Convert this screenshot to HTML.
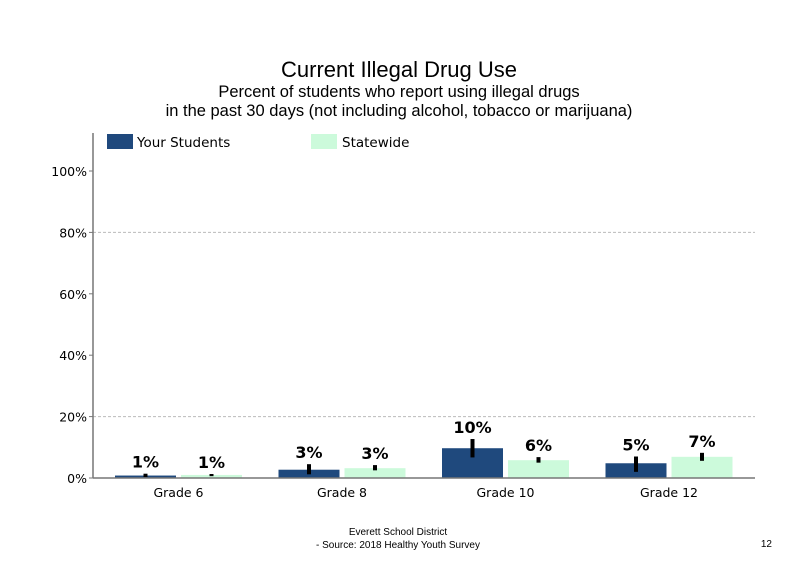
<!DOCTYPE html>
<html><head><meta charset="utf-8"><style>
body{margin:0;background:#fff;font-family:"Liberation Sans",sans-serif}
svg text{font-family:"DejaVu Sans","Liberation Sans",sans-serif}
</style></head><body>
<svg width="800" height="568" xmlns="http://www.w3.org/2000/svg" id="chart">
<text x="399" y="77" text-anchor="middle" font-size="22" style="font-family:'Liberation Sans',sans-serif">Current Illegal Drug Use</text>
<text x="399" y="97" text-anchor="middle" font-size="16.5" style="font-family:'Liberation Sans',sans-serif">Percent of students who report using illegal drugs</text>
<text x="399" y="116" text-anchor="middle" font-size="16.5" style="font-family:'Liberation Sans',sans-serif">in the past 30 days (not including alcohol, tobacco or marijuana)</text>
<g>
<rect x="107" y="134" width="26" height="15" fill="#1f497d"/>
<text x="137" y="147" font-size="13.5">Your Students</text>
<rect x="311" y="134" width="26" height="15" fill="#ccfadb"/>
<text x="342" y="147" font-size="13.5">Statewide</text>
</g>
<g id="grid"></g><g id="bars"></g>
<line x1="93" y1="133" x2="93" y2="478" stroke="#777" stroke-width="1.5"/>
<line x1="93" y1="478" x2="755" y2="478" stroke="#777" stroke-width="1.5"/>
<text x="398" y="535" text-anchor="middle" font-size="10" style="font-family:'Liberation Sans',sans-serif">Everett School District</text>
<text x="398" y="548" text-anchor="middle" font-size="10" style="font-family:'Liberation Sans',sans-serif">- Source: 2018 Healthy  Youth Survey</text>
<text x="772" y="547" text-anchor="end" font-size="10" style="font-family:'Liberation Sans',sans-serif">12</text>
</svg>
<script>
const categories=["Grade 6","Grade 8","Grade 10","Grade 12"];
const yourValues=[0.8,2.7,9.7,4.8];
const stateValues=[1.0,3.2,5.8,6.9];
const yourLow=[0.3,1.2,6.7,2.0];
const yourHigh=[1.4,4.5,12.7,7.0];
const stateLow=[0.6,2.5,5.0,5.6];
const stateHigh=[1.3,4.2,6.8,8.2];
const yourLabels=["1%","3%","10%","5%"];
const stateLabels=["1%","3%","6%","7%"];
const yTicks=[0,20,40,60,80,100];
const yTickLabels=["0%","20%","40%","60%","80%","100%"];
const NS="http://www.w3.org/2000/svg";
const x0=93,x1=755,yb=478,ppu=3.07;
const y=v=>yb-v*ppu;
const gw=163.5,firstCenter=178.5;
const bw=61,gap=5;
const grid=document.getElementById('grid'),bars=document.getElementById('bars');
function mk(t,a,p){const e=document.createElementNS(NS,t);for(const k in a)e.setAttribute(k,a[k]);p.appendChild(e);return e;}
yTicks.forEach((t,i)=>{
  if(t===20||t===80){const l=mk('line',{x1:x0,x2:x1,y1:y(t),y2:y(t),stroke:'#bbb','stroke-dasharray':'3,2'},grid);
  
  }
  const tk=mk('line',{x1:x0-4,x2:x0,y1:y(t),y2:y(t),stroke:'#777'},grid);
  
  
  const tx=mk('text',{x:x0-6,y:y(t)+5,'text-anchor':'end','font-size':'12.5'},grid);
  tx.textContent=yTickLabels[i];
  
  
});
categories.forEach((c,i)=>{
  const cx=firstCenter+gw*i;
  const series=[[yourValues,yourLow,yourHigh,yourLabels,'#1f497d',cx-gap/2-bw,'your-students'],[stateValues,stateLow,stateHigh,stateLabels,'#ccfadb',cx+gap/2,'statewide']];
  series.forEach(s=>{
    const v=s[0][i],bx=s[5];
    const r=mk('rect',{x:bx,y:y(v),width:bw,height:v*ppu,fill:s[4]},bars);
    
    
    const e=mk('rect',{x:bx+bw/2-2,y:y(s[2][i]),width:4,height:(s[2][i]-s[1][i])*ppu,fill:'#000'},bars);
    
    
    const t=mk('text',{x:bx+bw/2,y:y(Math.max(s[2][i],v))-6,'text-anchor':'middle','font-size':'16','font-weight':'bold'},bars);
    t.textContent=s[3][i];
    
    
  });
  const cl=mk('text',{x:cx,y:497,'text-anchor':'middle','font-size':'12.5'},bars);
  cl.textContent=c;
  
  
});
</script>
</body></html>
